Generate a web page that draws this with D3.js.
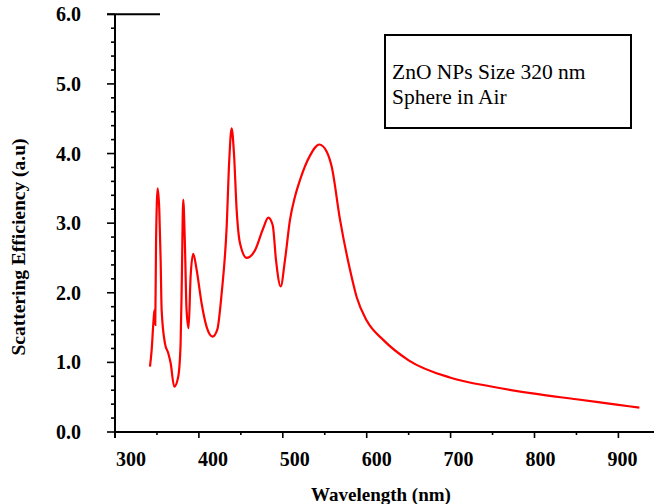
<!DOCTYPE html>
<html><head><meta charset="utf-8">
<script src="https://cdn.jsdelivr.net/npm/d3@7"></script>
<style>body{margin:0;background:#fff}svg{display:block}text{font-family:"Liberation Serif","Times New Roman",serif}</style>
</head><body><svg id="c" width="654" height="504"></svg>
<script>
const wavelength = [341.7,343.7,345.7,347,348,348.9,350.9,352.8,354.4,355.6,359.6,363.5,366.3,370.6,375.3,378.2,379.7,381.3,383.3,385.3,387.7,390.1,393.2,397.3,403.2,409.2,416.3,421.9,427.1,433.1,436.2,439.0,441.8,445,449,457,466.9,476.8,482.7,488,491.9,497.5,502.6,508.6,514.5,520.5,532.4,543.5,552.2,558.3,568.2,580.1,588,600,620,650,700,750,800,850,900,925];
const efficiency = [0.94,1.18,1.56,1.75,1.54,2.71,3.50,3.19,2.47,1.75,1.27,1.13,0.99,0.65,0.79,1.27,2.23,3.34,2.71,1.75,1.49,2.23,2.56,2.33,1.85,1.51,1.37,1.47,1.99,2.95,3.91,4.36,4.00,3.19,2.71,2.50,2.61,2.93,3.08,2.97,2.47,2.09,2.47,3.05,3.38,3.62,3.97,4.13,4.03,3.81,3.05,2.33,1.94,1.60,1.32,1.03,0.78,0.65,0.55,0.47,0.39,0.35];
const xTicks = [300,400,500,600,700,800,900];
const yTicks = [0,1,2,3,4,5,6];
const legendLines = ["ZnO NPs Size 320 nm","Sphere in Air"];

const svg = d3.select("#c");
const x = d3.scaleLinear().domain([300,900]).range([115,618.4]);
const y = d3.scaleLinear().domain([0,6]).range([432,14.3]);
const xEnd = 654;

// axes lines
svg.append("line").attr("x1",115).attr("x2",xEnd).attr("y1",y(0)).attr("y2",y(0)).attr("stroke","#000").attr("stroke-width",2);
svg.append("line").attr("x1",x(300)).attr("x2",x(300)).attr("y1",y(6)).attr("y2",y(0)+6).attr("stroke","#000").attr("stroke-width",2);
svg.append("line").attr("x1",107).attr("x2",160).attr("y1",y(6)).attr("y2",y(6)).attr("stroke","#000").attr("stroke-width",2);

// y ticks
const yMinor = d3.range(0,6.001,0.2);
svg.selectAll(".ym").data(yMinor).join("line")
  .attr("x1",d=> Math.abs(d-Math.round(d))<1e-6 ? 107 : 111).attr("x2",115)
  .attr("y1",d=>y(d)).attr("y2",d=>y(d)).attr("stroke","#000").attr("stroke-width",1.6);
svg.selectAll(".yl").data(yTicks).join("text")
  .attr("x",81).attr("y",d=>y(d)+7).attr("text-anchor","end")
  .attr("font-size",20).attr("font-weight","bold").text(d=>d.toFixed(1));

// x ticks
const xMinor = d3.range(300,951,50);
svg.selectAll(".xm").data(xMinor).join("line")
  .attr("x1",d=>x(d)).attr("x2",d=>x(d)).attr("y1",y(0))
  .attr("y2",d=> d%100===0 ? y(0)+6 : y(0)+3).attr("stroke","#000").attr("stroke-width",1.6);
svg.selectAll(".xl").data(xTicks).join("text")
  .attr("x",d=>x(d)+16-(d-300)*0.02).attr("y",y(0)+34).attr("text-anchor","middle")
  .attr("font-size",20).attr("font-weight","bold").text(d=>d);

// labels
svg.append("text").attr("x",381).attr("y",501).attr("text-anchor","middle")
  .attr("font-size",19).attr("font-weight","bold").text("Wavelength (nm)");
svg.append("text").attr("transform","translate(25,247) rotate(-90)").attr("text-anchor","middle")
  .attr("font-size",19.5).attr("font-weight","bold").text("Scattering Efficiency (a.u)");

// curve
const line = d3.line().x((d,i)=>x(wavelength[i])).y(d=>y(d)).curve(d3.curveMonotoneX);
svg.append("path").attr("d",line(efficiency)).attr("fill","none").attr("stroke","#ff0000").attr("stroke-width",2.2);

// legend box
svg.append("rect").attr("x",385).attr("y",35).attr("width",246).attr("height",93)
  .attr("fill","#fff").attr("stroke","#000").attr("stroke-width",2);
svg.selectAll(".lg").data(legendLines).join("text")
  .attr("x",392).attr("y",(d,i)=>79+i*25).attr("font-size",21.5).text(d=>d);
</script></body></html>
